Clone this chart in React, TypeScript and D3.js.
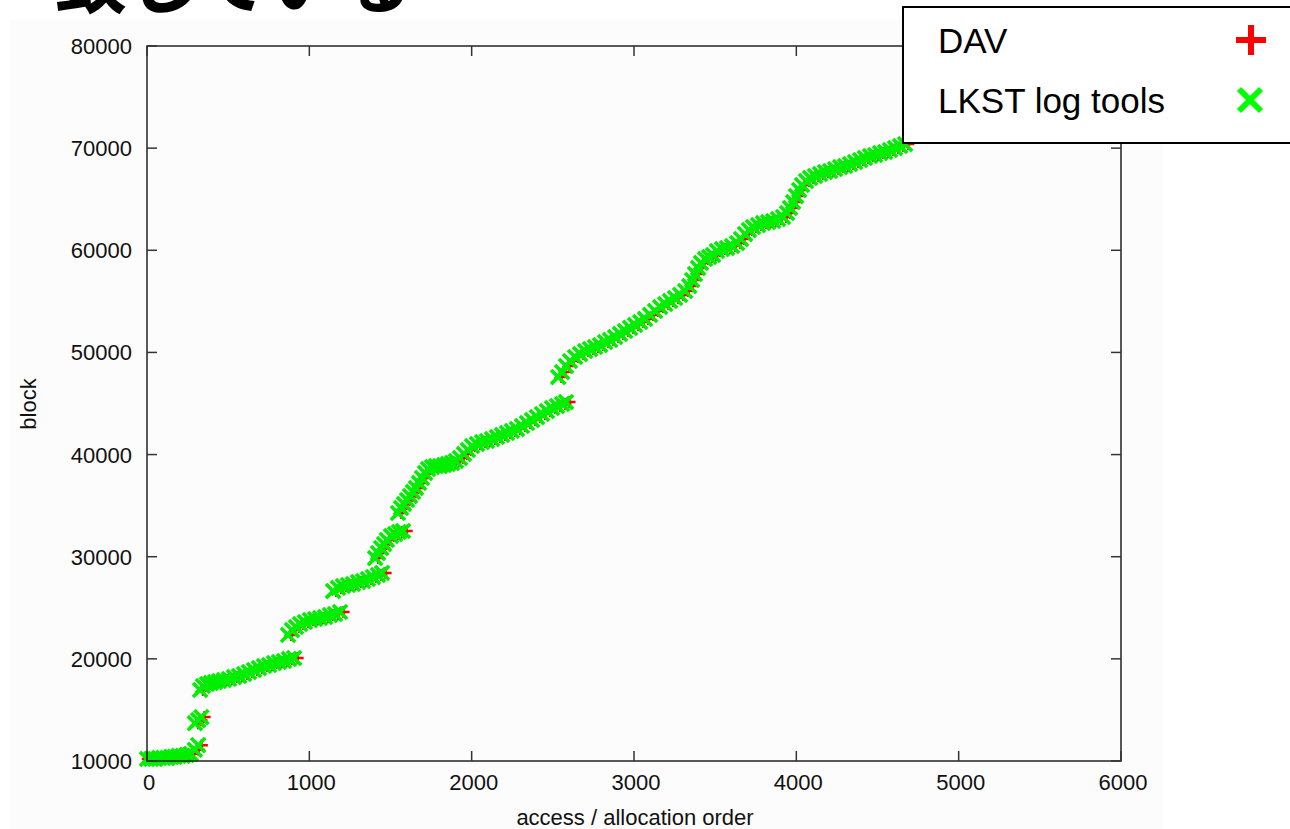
import React from "react";
import * as d3 from "d3";

// ---- data ----
const xTicks = [0, 1000, 2000, 3000, 4000, 5000, 6000];
const yTicks = [10000, 20000, 30000, 40000, 50000, 60000, 70000, 80000];

// block number of each sampled access (shared by both tools)
const blockValues = [
  // segment A
  10200, 10200, 10200, 10300, 10300, 10300, 10400, 10400, 10500, 10500, 10600, 10700, 11100, 11550,
  // B
  13700, 14000, 14300,
  // C
  16950, 17340, 17540, 17640, 17730, 17830, 17930, 18030, 18220, 18320, 18520, 18710, 18910, 19100, 19300, 19400, 19590, 19690, 19790, 19990, 20080,
  // D
  22340, 22820, 23120, 23410, 23610, 23800, 23900, 24000, 24100, 24290, 24390, 24590,
  // E
  26640, 26940, 27130, 27230, 27330, 27520, 27620, 27820, 28010, 28210, 28410,
  // F
  29870, 30360, 30850, 31240, 31640, 32030, 32220, 32420, 32520,
  // G
  34280, 34770, 35160, 35550, 35940, 36340, 36730, 37220, 37710, 38200, 38590, 38780, 38880, 38880, 38980, 39080, 39180, 39370, 39660, 40060, 40450,
  // H
  40840, 41030, 41230, 41330, 41520, 41720, 41920, 42110, 42310, 42500, 42800, 43090, 43380, 43670, 43970, 44260, 44560, 44750, 44950, 45140,
  // I
  47590, 48080, 48670, 49160, 49550, 49840, 50140, 50330, 50530, 50720, 51020, 51220, 51510, 51810, 52100, 52400, 52690, 52980, 53280, 53670,
  54060, 54450, 54740, 55040, 55330, 55630, 56010, 56500, 57090, 57680, 58270, 58760, 59150, 59340, 59540,
  // J
  59930, 60120, 60220, 60420, 60710, 61100, 61590, 61980, 62280, 62470, 62670, 62770, 62870, 63060, 63260, 63650, 64140, 64730, 65310, 65900,
  66390, 66780, 67080, 67270, 67470, 67660, 67760, 67960, 68150, 68250, 68450, 68640, 68840, 69040, 69230, 69330, 69520, 69620, 69820, 70010,
  70210, 70400,
];

// access / allocation order as logged by LKST log tools
const lkstOrder = [
  0, 25, 50, 75, 100, 125, 150, 170, 195, 220, 245, 270, 295, 315,
  295, 315, 335,
  327, 345, 370, 394, 419, 444, 474, 505, 536, 567, 598, 628, 659, 690, 721, 752, 782, 813, 844, 875, 906,
  869, 893, 918, 943, 973, 1004, 1035, 1066, 1097, 1127, 1158, 1189,
  1146, 1177, 1207, 1238, 1269, 1300, 1331, 1361, 1392, 1423, 1448,
  1405, 1423, 1442, 1460, 1478, 1503, 1528, 1552, 1577,
  1546, 1565, 1583, 1602, 1620, 1639, 1657, 1676, 1694, 1713, 1731, 1756, 1780, 1805, 1830, 1854, 1879, 1903, 1928, 1953, 1977,
  2002, 2033, 2064, 2094, 2125, 2156, 2187, 2218, 2248, 2279, 2310, 2341, 2372, 2402, 2433, 2464, 2495, 2526, 2557, 2581,
  2533, 2557, 2581, 2606, 2637, 2668, 2699, 2729, 2760, 2791, 2822, 2853, 2884, 2914, 2945, 2976, 3007, 3038, 3068, 3099,
  3130, 3161, 3192, 3222, 3253, 3284, 3315, 3340, 3358, 3376, 3395, 3413, 3438, 3463, 3487,
  3511, 3542, 3573, 3604, 3635, 3659, 3684, 3708, 3733, 3764, 3795, 3826, 3857, 3887, 3918, 3943, 3961, 3980, 3998, 4017,
  4035, 4060, 4085, 4115, 4146, 4177, 4208, 4239, 4270, 4300, 4331, 4362, 4393, 4423, 4454, 4485, 4516, 4547, 4577, 4608,
  4639, 4670,
];

// access / allocation order as recorded by DAV
const davOrder = [
  5, 40, 65, 90, 115, 140, 165, 185, 210, 235, 260, 285, 318, 338,
  315, 335, 355,
  345, 365, 390, 414, 439, 464, 494, 525, 556, 587, 618, 648, 679, 710, 741, 772, 802, 833, 864, 895, 928,
  889, 913, 938, 963, 993, 1024, 1055, 1086, 1117, 1147, 1178, 1211,
  1166, 1197, 1227, 1258, 1289, 1320, 1351, 1381, 1412, 1443, 1470,
  1425, 1443, 1462, 1480, 1498, 1523, 1548, 1572, 1600,
  1566, 1585, 1603, 1622, 1640, 1659, 1677, 1696, 1714, 1733, 1751, 1776, 1800, 1825, 1850, 1874, 1899, 1923, 1948, 1973, 1997,
  2022, 2053, 2084, 2114, 2145, 2176, 2207, 2238, 2268, 2299, 2330, 2361, 2392, 2422, 2453, 2484, 2515, 2546, 2577, 2603,
  2553, 2577, 2601, 2626, 2657, 2688, 2719, 2749, 2780, 2811, 2842, 2873, 2904, 2934, 2965, 2996, 3027, 3058, 3088, 3119,
  3150, 3181, 3212, 3242, 3273, 3304, 3335, 3360, 3378, 3396, 3415, 3433, 3458, 3483, 3507,
  3531, 3562, 3593, 3624, 3655, 3679, 3704, 3728, 3753, 3784, 3815, 3846, 3877, 3907, 3938, 3963, 3981, 4000, 4018, 4037,
  4055, 4080, 4105, 4135, 4166, 4197, 4228, 4259, 4290, 4320, 4351, 4382, 4413, 4443, 4474, 4505, 4536, 4567, 4597, 4628,
  4659, 4690,
];

const seriesNames = ["DAV", "LKST log tools"];
const seriesColors = ["#ff0000", "#00ee00"];
const xLabel = "access / allocation order";
const yLabel = "block";
const titleFragment = "致している";

// ---- layout ----
const W = 1290;
const H = 829;
const plot = { left: 147, right: 1121, top: 46, bottom: 761 };
const FONT = "'Liberation Sans', Arial, Helvetica, sans-serif";

const plusPath = (s: number) => `M${-s},0H${s}M0,${-s}V${s}`;
const crossPath = (s: number) => `M${-s},${-s}L${s},${s}M${-s},${s}L${s},${-s}`;

export default function App() {
  const x = d3.scaleLinear().domain([0, 6000]).range([plot.left, plot.right]);
  const y = d3.scaleLinear().domain([10000, 80000]).range([plot.bottom, plot.top]);
  const tickLen = 10;

  return (
    <div style={{ position: "absolute", left: 0, top: 0, width: W, height: H, background: "#fff" }}>
      <svg width={W} height={H} viewBox={`0 0 ${W} ${H}`} style={{ display: "block" }}>
        <rect x={0} y={0} width={W} height={H} fill="#ffffff" />
        <rect x={10} y={20} width={1153} height={H - 20} fill="#fcfcfc" />

        {/* cropped slide title (only its lower edge is inside the picture) */}
        <text
          x={55}
          y={7}
          fontFamily="'Noto Sans CJK JP', sans-serif"
          fontWeight={700}
          fontSize={72}
          fill="#000"
        >
          {titleFragment}
        </text>

        {/* data: DAV first, LKST on top */}
        <g stroke={seriesColors[0]} strokeWidth={2.5} fill="none">
          {davOrder.map((o, i) => (
            <path key={"d" + i} transform={`translate(${x(o)},${y(blockValues[i])})`} d={plusPath(6)} />
          ))}
        </g>
        <g stroke={seriesColors[1]} strokeWidth={3.6} fill="none" strokeLinecap="square">
          {lkstOrder.map((o, i) => (
            <path key={"l" + i} transform={`translate(${x(o)},${y(blockValues[i])})`} d={crossPath(5.8)} />
          ))}
        </g>

        {/* frame */}
        <rect
          x={plot.left}
          y={plot.top}
          width={plot.right - plot.left}
          height={plot.bottom - plot.top}
          fill="none"
          stroke="#222"
          strokeWidth={1.5}
        />

        {/* x ticks */}
        {xTicks.map((t) => (
          <g key={"xt" + t}>
            <line x1={x(t)} x2={x(t)} y1={plot.bottom} y2={plot.bottom - tickLen} stroke="#333" strokeWidth={1.5} />
            <line x1={x(t)} x2={x(t)} y1={plot.top} y2={plot.top + tickLen} stroke="#333" strokeWidth={1.5} />
            <text x={x(t) + 2} y={790} textAnchor="middle" fontFamily={FONT} fontSize={22} fill="#111">
              {t}
            </text>
          </g>
        ))}

        {/* y ticks */}
        {yTicks.map((t) => (
          <g key={"yt" + t}>
            <line x1={plot.left} x2={plot.left + tickLen} y1={y(t)} y2={y(t)} stroke="#333" strokeWidth={1.5} />
            <line x1={plot.right} x2={plot.right - tickLen} y1={y(t)} y2={y(t)} stroke="#333" strokeWidth={1.5} />
            <text x={132} y={y(t) + 8} textAnchor="end" fontFamily={FONT} fontSize={22} fill="#111">
              {t}
            </text>
          </g>
        ))}

        {/* axis labels */}
        <text x={635} y={825} textAnchor="middle" fontFamily={FONT} fontSize={22} fill="#111">
          {xLabel}
        </text>
        <text
          transform={`translate(36,404) rotate(-90)`}
          textAnchor="middle"
          fontFamily={FONT}
          fontSize={22}
          fill="#111"
        >
          {yLabel}
        </text>

        {/* legend */}
        <rect x={903} y={7} width={400} height={136} fill="#fff" stroke="#000" strokeWidth={2} />
        <text x={938} y={53} fontFamily={FONT} fontSize={35} fill="#000">
          {seriesNames[0]}
        </text>
        <text x={938} y={113} fontFamily={FONT} fontSize={35} fill="#000">
          {seriesNames[1]}
        </text>
        <path transform="translate(1251,40)" d={plusPath(15)} stroke={seriesColors[0]} strokeWidth={6} fill="none" />
        <path transform="translate(1250,100)" d={crossPath(11)} stroke="#00ff00" strokeWidth={6} fill="none" />
      </svg>
    </div>
  );
}
